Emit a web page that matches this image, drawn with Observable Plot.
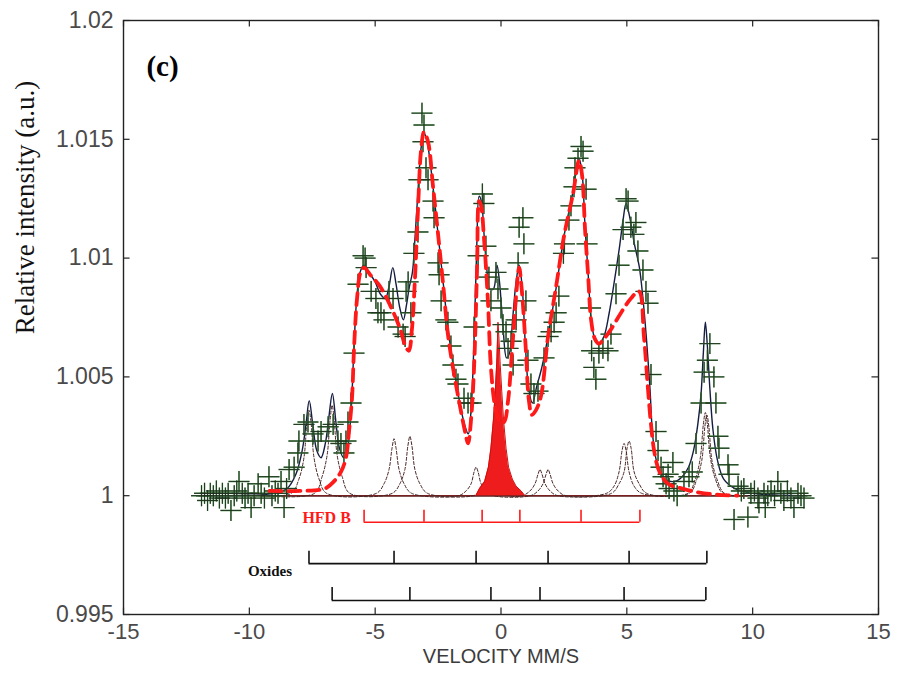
<!DOCTYPE html>
<html><head><meta charset="utf-8">
<script src="https://cdn.jsdelivr.net/npm/d3@7"></script>
<script src="https://cdn.jsdelivr.net/npm/@observablehq/plot@0.6"></script>
<style>body{margin:0;background:#fff}#chart svg{display:block}</style>
</head><body><div id="chart"></div>
<script>
// ---- tick values / labels
const xTicks = [-15, -10, -5, 0, 5, 10, 15];
const xTickLabels = ["-15", "-10", "-5", "0", "5", "10", "15"];
const yTicks = [0.995, 1, 1.005, 1.01, 1.015, 1.02];
const yTickLabels = ["0.995", "1", "1.005", "1.01", "1.015", "1.02"];

// ---- experimental points [velocity, intensity]
const measured = [
[-11.9,1.0000],[-11.78,1.0001],[-11.66,0.9998],[-11.55,1.0001],[-11.43,1.0000],[-11.31,1.0002],[-11.19,0.9999],[-11.07,1.0001],
[-10.95,0.9999],[-10.84,1.0001],[-10.73,0.99938],[-10.6,1.0000],[-10.5,1.0002],[-10.41,1.0006],[-10.28,1.0001],[-10.17,0.9999],
[-10.05,1.0001],[-9.93,0.9995],[-9.81,1.0000],[-9.65,1.0005],[-9.53,1.0001],[-9.4,0.9999],[-9.22,1.0008],[-9.1,1.0000],
[-8.97,1.0002],[-8.86,1.0001],[-8.74,1.0006],[-8.62,0.9995],[-8.52,1.0003],[-8.42,1.0011],[-8.22,1.0012],[-8.07,1.0018],
[-8.03,1.0023],[-7.83,1.0030],[-7.67,1.0031],[-7.47,1.0026],[-7.27,1.0023],[-7.15,1.0027],[-6.87,1.0029],[-6.67,1.0030],
[-6.48,1.0023],[-6.36,1.0022],[-6.24,1.0018],[-6.16,1.0023],[-6.08,1.0031],[-5.96,1.0039],[-5.84,1.0060],[-5.68,1.0089],
[-5.48,1.0101],[-5.4,1.0100],[-5.36,1.0096],[-5.16,1.0086],[-4.97,1.0083],[-4.89,1.0077],[-4.77,1.0077],[-4.65,1.0074],
[-4.45,1.0086],[-4.29,1.0083],[-4.09,1.0071],[-3.89,1.0068],[-3.81,1.0067],[-3.77,1.0086],[-3.69,1.0090],[-3.58,1.0077],
[-3.46,1.0102],[-3.30,1.0111],[-3.26,1.0133],[-3.14,1.0161],[-3.10,1.0149],[-3.06,1.0156],[-2.98,1.0138],[-2.90,1.0133],
[-2.70,1.0124],[-2.66,1.0117],[-2.50,1.0098],[-2.46,1.0093],[-2.38,1.0082],[-2.19,1.0074],[-2.11,1.0073],[-1.99,1.0063],
[-1.91,1.0055],[-1.79,1.0049],[-1.71,1.0047],[-1.47,1.0041],[-1.31,1.0039],[-1.19,1.0039],[-1.07,1.0071],[-0.91,1.0101],
[-0.74,1.0127],[-0.68,1.0123],[-0.60,1.0105],[-0.48,1.0092],[-0.40,1.0082],[-0.20,1.0094],[-0.12,1.0087],[0.00,1.0079],
[0.08,1.0072],[0.20,1.0069],[0.28,1.0062],[0.40,1.0065],[0.48,1.0055],[0.60,1.0074],[0.68,1.0098],[0.72,1.0113],
[0.87,1.0117],[0.91,1.0106],[0.99,1.0082],[1.07,1.0057],[1.19,1.0047],[1.31,1.0043],[1.47,1.0044],[1.71,1.0058],
[1.87,1.0067],[1.99,1.0069],[2.11,1.0073],[2.19,1.0077],[2.30,1.0084],[2.48,1.0102],[2.52,1.0106],[2.70,1.0116],
[2.78,1.0122],[2.90,1.0130],[2.94,1.0138],[3.06,1.0142],[3.18,1.0147],[3.26,1.0145],[3.38,1.0129],[3.42,1.0106],
[3.56,1.0079],[3.60,1.0061],[3.69,1.0054],[3.77,1.0049],[3.89,1.0060],[4.05,1.0062],[4.25,1.0061],[4.37,1.0068],
[4.57,1.0085],[4.69,1.0097],[4.85,1.0112],[4.97,1.0125],[5.05,1.0124],[5.16,1.0113],[5.28,1.0110],[5.36,1.0115],
[5.44,1.0103],[5.64,1.0095],[5.76,1.0086],[5.84,1.0081],[5.96,1.0051],[6.16,1.0027],[6.24,1.0019],[6.36,1.0012],
[6.44,1.0008],[6.56,1.0005],[6.64,1.0009],[6.68,1.0003],[6.83,1.0014],[6.87,1.0002],[7.0,1.0000],[7.27,1.0006],
[7.47,1.0008],[7.6,1.0010],[7.75,1.0022],[7.95,1.0039],[8.07,1.0052],[8.2,1.0057],[8.3,1.0064],[8.46,1.0050],
[8.54,1.0039],[8.62,1.0025],[8.66,1.0020],[9.02,1.0013],[9.06,1.0009],[9.26,0.9990],[9.42,1.0004],[9.55,1.0002],
[9.65,1.0003],[9.81,0.9991],[9.93,1.0001],[10.07,1.0002],[10.21,0.9999],[10.25,0.9997],[10.45,1.0001],[10.5,0.9995],
[10.6,1.0000],[10.73,1.0002],[10.87,1.0000],[11.0,1.0006],[11.12,1.0001],[11.24,0.9998],[11.38,1.0002],[11.52,0.9999],
[11.64,0.9995],[11.8,1.0001],[11.92,1.0000],[12.04,0.9999]
];

// ---- total fit (solid dark line)
const totalFit = [
[-12,1.0000],[-9.0,1.0001],[-8.5,1.0003],[-8.15,1.0009],[-7.9,1.0019],[-7.75,1.0030],[-7.62,1.0040],[-7.48,1.0030],
[-7.32,1.0019],[-7.15,1.0016],[-6.98,1.0022],[-6.84,1.0033],[-6.70,1.0043],[-6.56,1.0031],[-6.42,1.0020],[-6.25,1.0016],
[-6.1,1.0020],[-5.96,1.0035],[-5.86,1.0058],[-5.74,1.0082],[-5.6,1.0094],[-5.45,1.0097],[-5.25,1.0094],[-5.0,1.0090],
[-4.8,1.0085],[-4.6,1.0083],[-4.45,1.0088],[-4.3,1.0096],[-4.17,1.0089],[-4.02,1.0079],[-3.88,1.0074],[-3.76,1.0080],
[-3.64,1.0088],[-3.52,1.0094],[-3.42,1.0108],[-3.3,1.0128],[-3.18,1.0146],[-3.06,1.0153],[-2.92,1.0148],[-2.7,1.0130],
[-2.5,1.0110],[-2.3,1.0090],[-2.1,1.0070],[-1.9,1.0055],[-1.67,1.0041],[-1.45,1.0030],[-1.3,1.0026],[-1.19,1.0036],
[-1.07,1.0066],[-0.96,1.0106],[-0.87,1.0126],[-0.78,1.0124],[-0.68,1.0111],[-0.56,1.0095],[-0.45,1.0087],[-0.3,1.0087],
[-0.16,1.0097],[-0.06,1.0090],[0.08,1.0071],[0.22,1.0058],[0.34,1.0060],[0.46,1.0074],[0.6,1.0090],[0.72,1.0097],
[0.84,1.0088],[0.97,1.0063],[1.1,1.0045],[1.25,1.0039],[1.42,1.0046],[1.6,1.0053],[1.78,1.0062],[1.95,1.0072],
[2.2,1.0088],[2.5,1.0109],[2.86,1.0128],[3.1,1.0142],[3.22,1.0136],[3.34,1.0113],[3.46,1.0094],[3.58,1.0075],
[3.73,1.0066],[3.89,1.0064],[4.09,1.0067],[4.3,1.0077],[4.5,1.0090],[4.7,1.0104],[4.85,1.0116],[4.97,1.0123],
[5.1,1.0118],[5.3,1.0106],[5.5,1.0096],[5.64,1.0083],[5.78,1.0066],[5.92,1.0045],[6.04,1.0024],[6.24,1.0012],
[6.5,1.0007],[6.9,1.0006],[7.2,1.0008],[7.45,1.0012],[7.65,1.0019],[7.82,1.0030],[7.95,1.0043],[8.04,1.0060],
[8.12,1.0073],[8.2,1.0063],[8.3,1.0045],[8.42,1.0028],[8.6,1.0015],[8.85,1.0007],[9.3,1.0003],[10,1.0001],[12,1.0000]
];

// ---- HFD B fit (red dashed)
const hfdFit = [
[-9.2,1.0002],[-8.0,1.0002],[-7.0,1.0003],[-6.64,1.0006],[-6.36,1.0010],[-6.16,1.0016],[-6.04,1.0027],[-5.92,1.0041],
[-5.84,1.0062],[-5.72,1.0083],[-5.58,1.0094],[-5.44,1.0096],[-5.2,1.0093],[-4.8,1.0088],[-4.4,1.0080],[-4.0,1.0070],
[-3.8,1.0063],[-3.66,1.0061],[-3.54,1.0070],[-3.42,1.0091],[-3.30,1.0120],[-3.18,1.0145],[-3.06,1.0153],[-2.9,1.0149],
[-2.7,1.0130],[-2.5,1.0110],[-2.3,1.0089],[-2.11,1.0068],[-1.91,1.0054],[-1.67,1.0040],[-1.43,1.0027],[-1.31,1.0022],
[-1.19,1.0032],[-1.07,1.0054],[-0.95,1.0096],[-0.87,1.0124],[-0.79,1.0122],[-0.68,1.0109],[-0.52,1.0082],[-0.40,1.0054],
[-0.24,1.0038],[-0.04,1.0031],[0.12,1.0031],[0.28,1.0040],[0.44,1.0061],[0.60,1.0084],[0.72,1.0096],[0.83,1.0086],
[0.99,1.0061],[1.11,1.0040],[1.23,1.0034],[1.39,1.0036],[1.59,1.0042],[1.87,1.0067],[2.19,1.0088],[2.5,1.0109],
[2.86,1.0127],[3.10,1.0141],[3.22,1.0135],[3.34,1.0112],[3.46,1.0093],[3.58,1.0074],[3.73,1.0066],[3.89,1.0064],
[4.09,1.0066],[4.37,1.0070],[4.77,1.0077],[5.16,1.0083],[5.48,1.0086],[5.68,1.0067],[5.84,1.0045],[5.96,1.0030],
[6.1,1.0018],[6.3,1.0010],[6.64,1.0005],[7.2,1.0003],[8.07,1.0001],[9.4,1.0000]
];

// ---- oxide subspectra (thin dashed)
const oxide1Fit = [
[-9.5,1.0000],
[-8.33,1.0001],[-8.03,1.0007],[-7.83,1.0016],[-7.71,1.0031],[-7.63,1.0036],[-7.55,1.0031],[-7.43,1.0016],[-7.23,1.0007],[-6.93,1.0001],
[-4.95,1.0001],[-4.65,1.0005],[-4.45,1.0011],[-4.33,1.0020],[-4.25,1.0024],[-4.17,1.0020],[-4.05,1.0011],[-3.85,1.0005],[-3.55,1.0001],
[-1.69,1.0000],[-1.39,1.0002],[-1.19,1.0005],[-1.07,1.0010],[-0.99,1.0012],[-0.91,1.0010],[-0.79,1.0005],[-0.59,1.0002],[-0.29,1.0000],
[1.17,1.0000],[1.47,1.0002],[1.67,1.0005],[1.79,1.0009],[1.87,1.0011],[1.95,1.0009],[2.07,1.0005],[2.27,1.0002],[2.57,1.0000],
[4.39,1.0001],[4.69,1.0005],[4.89,1.0010],[5.01,1.0020],[5.09,1.0023],[5.17,1.0020],[5.29,1.0010],[5.49,1.0005],[5.79,1.0001],
[7.48,1.0001],[7.78,1.0007],[7.98,1.0015],[8.10,1.0029],[8.18,1.0034],[8.26,1.0029],[8.38,1.0015],[8.58,1.0007],[8.88,1.0001],
[9.8,1.0000]
];
const oxide2Fit = [
[-9.5,1.0000],
[-7.41,1.0001],[-7.11,1.0008],[-6.91,1.0017],[-6.79,1.0032],[-6.71,1.0038],[-6.63,1.0032],[-6.51,1.0017],[-6.31,1.0008],[-6.01,1.0001],
[-4.32,1.0001],[-4.02,1.0005],[-3.82,1.0011],[-3.70,1.0021],[-3.62,1.0025],[-3.54,1.0021],[-3.42,1.0011],[-3.22,1.0005],[-2.92,1.0001],
[-1.10,1.0000],[-0.80,1.0002],[-0.60,1.0005],[-0.48,1.0010],[-0.40,1.0012],[-0.32,1.0010],[-0.20,1.0005],[0.00,1.0002],[0.30,1.0000],
[0.85,1.0000],[1.15,1.0002],[1.35,1.0005],[1.47,1.0009],[1.55,1.0011],[1.63,1.0009],[1.75,1.0005],[1.95,1.0002],[2.25,1.0000],
[4.19,1.0001],[4.49,1.0004],[4.69,1.0010],[4.81,1.0019],[4.89,1.0022],[4.97,1.0019],[5.09,1.0010],[5.29,1.0004],[5.59,1.0001],
[7.42,1.0001],[7.72,1.0007],[7.92,1.0016],[8.04,1.0030],[8.12,1.0035],[8.20,1.0030],[8.32,1.0016],[8.52,1.0007],[8.82,1.0001],
[9.8,1.0000]
];

// ---- central paramagnetic component (red filled)
const centralPeak = [
[-1.0,1.0000],[-0.85,1.0003],[-0.65,1.0006],[-0.5,1.0012],[-0.4,1.0020],[-0.3,1.0032],[-0.22,1.0045],[-0.16,1.0058],
[-0.12,1.0073],[-0.08,1.0066],[-0.03,1.0055],[0.03,1.0044],[0.1,1.0032],[0.2,1.0020],[0.3,1.0012],[0.45,1.0007],
[0.6,1.0004],[0.8,1.0002],[0.95,1.0000]
];

// ---- stick diagrams (line positions, mm/s)
const hfdBLines = [-5.44, -3.06, -0.75, 0.75, 3.18, 5.52];
const oxide1Lines = [-7.63, -4.25, -0.99, 1.87, 5.09, 8.18];
const oxide2Lines = [-6.71, -3.62, -0.40, 1.55, 4.89, 8.14];

// ---------------------------------------------------------------
const SERIF = "'Liberation Serif','Times New Roman',Times,serif";
const SANS = "'Liberation Sans',Arial,Helvetica,sans-serif";
const X = d => d[0], Y = d => d[1];

function sticks(lines, yLine, yTop, color) {
  return [
    Plot.ruleY([yLine], {x1: d3.min(lines), x2: d3.max(lines), stroke: color, strokeWidth: 1.6}),
    Plot.ruleX(lines, {x: d => d, y1: yLine, y2: yTop, stroke: color, strokeWidth: 1.6})
  ];
}

const chart = Plot.plot({
  width: 897,
  height: 677,
  marginLeft: 123,
  marginRight: 19,
  marginTop: 20,
  marginBottom: 63,
  style: {fontFamily: SANS, fontSize: "21px", background: "#fff"},
  x: {domain: [-15, 15], label: null},
  y: {domain: [0.995, 1.02], label: null},
  marks: [
    // axis labels (no outer ticks)
    Plot.axisX(xTicks, {tickSize: 0, tickPadding: 9, label: null, fontSize: 22, fill: "#4a4a4a",
      tickFormat: d => xTickLabels[xTicks.indexOf(d)]}),
    Plot.axisY(yTicks, {tickSize: 0, tickPadding: 10, label: null, fontSize: 23, fill: "#4a4a4a",
      tickFormat: d => yTickLabels[yTicks.indexOf(d)]}),
    // inward ticks on all four sides
    Plot.ruleX(xTicks, {x: d => d, y1: 0.995, y2: 0.99527, stroke: "#222", strokeWidth: 1.2}),
    Plot.ruleX(xTicks, {x: d => d, y1: 1.01973, y2: 1.02, stroke: "#222", strokeWidth: 1.2}),
    Plot.ruleY(yTicks, {y: d => d, x1: -15, x2: -14.74, stroke: "#222", strokeWidth: 1.2}),
    Plot.ruleY(yTicks, {y: d => d, x1: 14.74, x2: 15, stroke: "#222", strokeWidth: 1.2}),
    Plot.frame({stroke: "#222", strokeWidth: 1.4}),

    // baseline
    Plot.ruleY([1], {x1: -12.1, x2: 12.2, stroke: "#1a1a1a", strokeWidth: 1.4}),
    Plot.ruleY([1], {x1: -9.5, x2: 9.8, stroke: "#7a2020", strokeWidth: 1.6}),

    // oxide subspectra
    Plot.line(oxide1Fit, {x: X, y: Y, stroke: "#4a2525", strokeWidth: 1, strokeDasharray: "3,2", curve: "catmull-rom"}),
    Plot.line(oxide2Fit, {x: X, y: Y, stroke: "#4a2525", strokeWidth: 1, strokeDasharray: "3,2", curve: "catmull-rom"}),

    // central component
    Plot.areaY(centralPeak, {x: X, y1: () => 1, y2: Y, fill: "#ee1c1c", curve: "linear"}),
    Plot.line(centralPeak, {x: X, y: Y, stroke: "#d01010", strokeWidth: 1}),

    // total fit
    Plot.line(totalFit, {x: X, y: Y, stroke: "#151d40", strokeWidth: 1.4, curve: "catmull-rom"}),

    // measured points
    Plot.dot(measured, {x: X, y: Y, symbol: "plus", r: 6.8, stroke: "#3f8a3f", strokeWidth: 1.4}),
    Plot.dot(measured, {x: X, y: Y, symbol: "plus", r: 6.8, stroke: "#202c20", strokeWidth: 0.9}),

    // HFD B fit
    Plot.line(hfdFit, {x: X, y: Y, stroke: "#ff1a1a", strokeWidth: 3.8, strokeDasharray: "12,7", curve: "catmull-rom"}),

    // stick diagrams
    ...sticks(hfdBLines, 0.99888, 0.99939, "#ff1a1a"),
    ...sticks(oxide1Lines, 0.99714, 0.99766, "#111"),
    ...sticks(oxide2Lines, 0.99559, 0.99614, "#111"),

    // annotations
    Plot.text(["HFD B"], {x: -6.93, y: 0.99908, text: d => d, fill: "#ff1a1a", fontFamily: SERIF, fontWeight: "bold", fontSize: 16}),
    Plot.text(["Oxides"], {x: -9.18, y: 0.99684, text: d => d, fill: "#111", fontFamily: SERIF, fontWeight: "bold", fontSize: 15}),
    Plot.text(["(c)"], {x: -13.45, y: 1.01804, text: d => d, fill: "#000", fontFamily: SERIF, fontWeight: "bold", fontSize: 29}),
    Plot.text(["Relative intensity (a.u.)"], {frameAnchor: "left", dx: -98, dy: -110, rotate: -90, text: d => d,
      textAnchor: "middle", lineAnchor: "middle", fill: "#111", fontFamily: SERIF, fontSize: 27}),
    Plot.text(["VELOCITY MM/S"], {frameAnchor: "bottom", dy: 48, text: d => d, textAnchor: "middle", fill: "#3c3c3c", fontFamily: SANS, fontSize: 20})
  ]
});
document.getElementById("chart").appendChild(chart);
</script>
</body></html>
